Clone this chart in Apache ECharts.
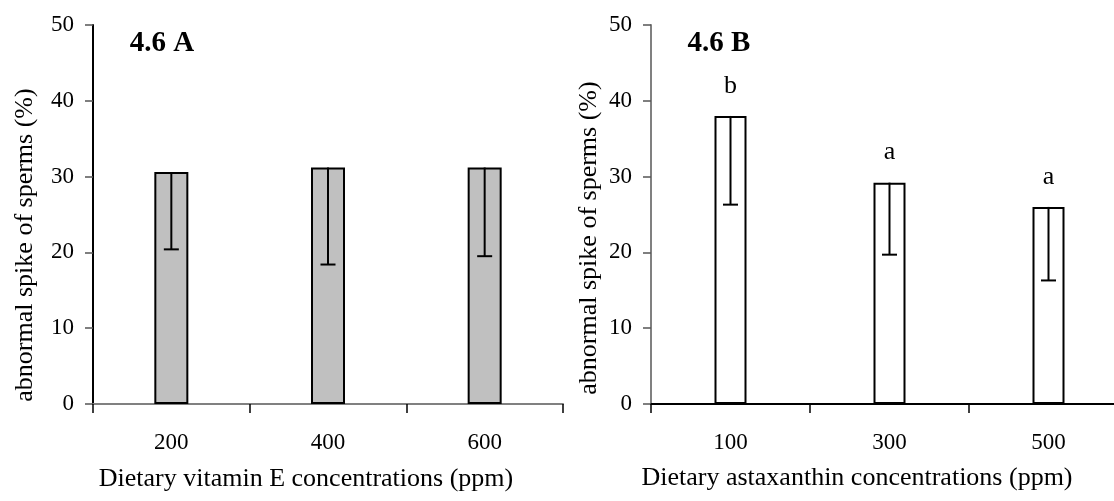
<!DOCTYPE html>
<html>
<head>
<meta charset="utf-8">
<script src="https://cdn.jsdelivr.net/npm/echarts@6/dist/echarts.min.js"></script>
<style>
html,body{margin:0;padding:0;background:#fff;}
#chart{width:1114px;height:501px;}
</style>
</head>
<body>
<div id="chart"></div>
<script>
// Panel A: vitamin E
const categoriesA = ['200', '400', '600'];
const valuesA = [30.6, 31.2, 31.2];
const lowA = [20.4, 18.4, 19.5];
// Panel B: astaxanthin
const categoriesB = ['100', '300', '500'];
const valuesB = [38.0, 29.2, 26.0];
const lowB = [26.3, 19.7, 16.3];
const lettersB = ['b', 'a', 'a'];
const yTicks = [0, 10, 20, 30, 40, 50];
const titleA = '4.6 A', titleB = '4.6 B';
const yName = 'abnormal spike of sperms (%)';
const xNameA = 'Dietary vitamin E concentrations (ppm)';
const xNameB = 'Dietary astaxanthin concentrations (ppm)';

const FONT = '"Liberation Serif", "Times New Roman", serif';

function errRender(params, api) {
  const x = api.value(0), hi = api.value(1), lo = api.value(2);
  const p1 = api.coord([x, hi]);
  const p2 = api.coord([x, lo]);
  return {
    type: 'group',
    children: [
      {type: 'line', shape: {x1: p1[0], y1: p1[1], x2: p2[0], y2: p2[1]}, style: {stroke: '#000', lineWidth: 2}},
      {type: 'line', shape: {x1: p2[0] - 7.5, y1: p2[1], x2: p2[0] + 7.5, y2: p2[1]}, style: {stroke: '#000', lineWidth: 2}}
    ]
  };
}

function xAxisDef(idx, cats, lineColor) {
  return {
    type: 'category', gridIndex: idx, data: cats,
    axisLine: {lineStyle: {color: lineColor, width: 2}},
    axisTick: {show: true, length: 9, lineStyle: {color: '#000', width: 1.5}},
    axisLabel: {fontFamily: FONT, fontSize: 23, color: '#000', margin: 27},
    splitLine: {show: false}
  };
}
function yAxisDef(idx, lineColor) {
  return {
    type: 'value', gridIndex: idx, min: yTicks[0], max: yTicks[yTicks.length - 1], interval: 10,
    axisLine: {show: true, lineStyle: {color: lineColor, width: 2}},
    axisTick: {show: true, length: 8, lineStyle: {color: '#555', width: 1.5}},
    axisLabel: {fontFamily: FONT, fontSize: 23, color: '#000', margin: 19},
    splitLine: {show: false}
  };
}
function txt(text, x, y, size, rot, weight) {
  return {
    type: 'text', x: x, y: y, rotation: rot || 0, silent: true,
    style: {
      text: text, fontFamily: FONT, fontSize: size, fontWeight: weight || 'normal',
      fill: '#000', align: 'center', verticalAlign: 'middle'
    }
  };
}

const chart = echarts.init(document.getElementById('chart'));
chart.setOption({
  animation: false,
  backgroundColor: '#fff',
  graphic: [
    txt(titleA, 162, 44, 29, 0, 'bold'),
    txt(titleB, 719, 44, 29, 0, 'bold'),
    txt(yName, 25, 245, 26, Math.PI / 2),
    txt(yName, 589, 238, 26, Math.PI / 2),
    txt(xNameA, 306, 479, 26),
    txt(xNameB, 857, 478, 26)
  ],
  grid: [
    {left: 93, top: 25, width: 470, height: 379, containLabel: false, outerBoundsMode: 'none'},
    {left: 651, top: 25, width: 477, height: 379, containLabel: false, outerBoundsMode: 'none'}
  ],
  xAxis: [
    xAxisDef(0, categoriesA, '#808080'),
    xAxisDef(1, categoriesB, '#000')
  ],
  yAxis: [yAxisDef(0, '#000'), yAxisDef(1, '#808080')],
  series: [
    {
      type: 'bar', xAxisIndex: 0, yAxisIndex: 0, data: valuesA, barWidth: 34,
      itemStyle: {color: '#c0c0c0', borderColor: '#000', borderWidth: 2}
    },
    {
      type: 'custom', xAxisIndex: 0, yAxisIndex: 0, renderItem: errRender,
      data: valuesA.map((v, i) => [i, v, lowA[i]]), z: 5
    },
    {
      type: 'bar', xAxisIndex: 1, yAxisIndex: 1, data: valuesB, barWidth: 32,
      itemStyle: {color: '#fff', borderColor: '#000', borderWidth: 2},
      label: {
        show: true, position: 'top', distance: 17,
        formatter: p => lettersB[p.dataIndex],
        fontFamily: FONT, fontSize: 26, color: '#000'
      }
    },
    {
      type: 'custom', xAxisIndex: 1, yAxisIndex: 1, renderItem: errRender,
      data: valuesB.map((v, i) => [i, v, lowB[i]]), z: 5
    }
  ]
});
</script>
</body>
</html>
